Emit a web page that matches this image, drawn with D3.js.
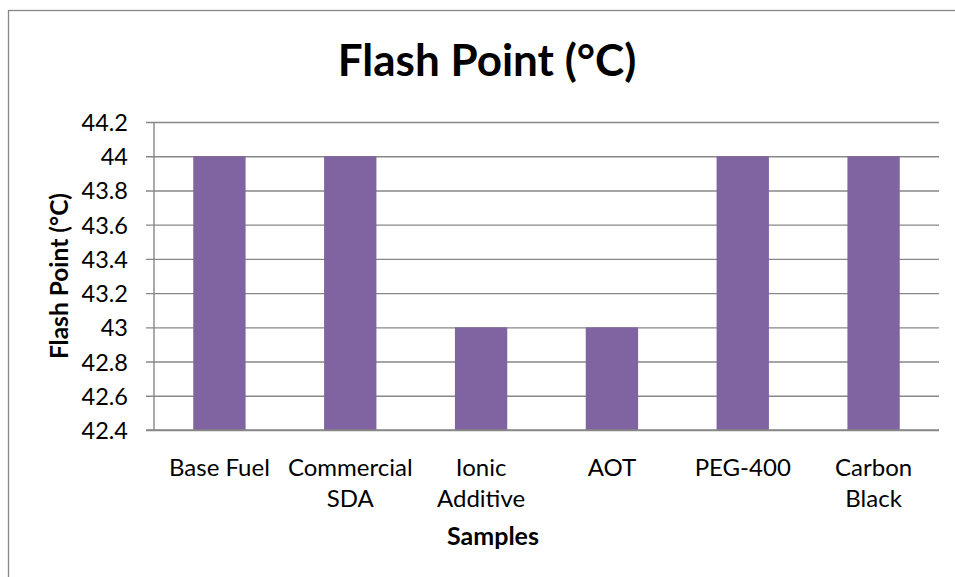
<!DOCTYPE html>
<html>
<head>
<meta charset="utf-8">
<script src="https://cdn.jsdelivr.net/npm/d3@7"></script>
<style>
  html, body { margin: 0; padding: 0; background: #fff; }
  svg { display: block; }
  text { font-family: Lato, sans-serif; fill: #000; }
</style>
</head>
<body>
<svg id="chart" width="955" height="577"></svg>
<script>
const categories = [["Base Fuel"], ["Commercial", "SDA"], ["Ionic", "Additive"], ["AOT"], ["PEG-400"], ["Carbon", "Black"]];
const values = [44, 44, 43, 43, 44, 44];
const yTicks = [42.4, 42.6, 42.8, 43, 43.2, 43.4, 43.6, 43.8, 44, 44.2];
const yTickLabels = ["42.4", "42.6", "42.8", "43", "43.2", "43.4", "43.6", "43.8", "44", "44.2"];
const chartTitle = "Flash Point (°C)";
const yTitle = "Flash Point (°C)";
const xTitle = "Samples";

const svg = d3.select("#chart");
const plot = { left: 154, right: 939, top: 122, bottom: 430 };
const gridColor = "#878787";
const barColor = "#8064A2";

// chart border
svg.append("rect")
  .attr("x", 8.5).attr("y", 10.5)
  .attr("width", 1000).attr("height", 1000)
  .attr("fill", "none").attr("stroke", gridColor).attr("stroke-width", 1.3);

const x = d3.scaleBand()
  .domain(d3.range(categories.length))
  .range([plot.left, plot.right])
  .paddingInner(0.6).paddingOuter(0.3);

const y = d3.scaleLinear()
  .domain([42.4, 44.2])
  .range([plot.bottom, plot.top]);

// gridlines + y axis
const yAxis = d3.axisLeft(y)
  .tickValues(yTicks)
  .tickFormat((d, i) => yTickLabels[i])
  .tickSize(-(plot.right - plot.left))
  .tickPadding(0);

const gy = svg.append("g")
  .attr("transform", `translate(${plot.left},0)`)
  .call(yAxis);
gy.select(".domain").remove();
gy.selectAll(".tick line")
  .attr("x1", -8)
  .attr("stroke", gridColor).attr("stroke-width", 1.4);
gy.selectAll(".tick text")
  .attr("x", -26)
  .attr("dy", "0.36em")
  .style("font-size", "23.5px")
  .style("font-family", "Lato, sans-serif")
  .attr("fill", "#000");

// bars
svg.append("g").selectAll("rect")
  .data(values)
  .join("rect")
  .attr("x", (d, i) => x(i))
  .attr("width", x.bandwidth())
  .attr("y", d => y(d))
  .attr("height", d => y(42.4) - y(d))
  .attr("fill", barColor);

// y axis line
svg.append("line")
  .attr("x1", plot.left).attr("x2", plot.left)
  .attr("y1", plot.top).attr("y2", plot.bottom)
  .attr("stroke", gridColor).attr("stroke-width", 1.4);
// x axis line
svg.append("line")
  .attr("x1", plot.left - 8).attr("x2", plot.right)
  .attr("y1", plot.bottom).attr("y2", plot.bottom)
  .attr("stroke", gridColor).attr("stroke-width", 1.4);

// category labels
const cat = svg.append("g").selectAll("text")
  .data(categories)
  .join("text")
  .attr("text-anchor", "middle")
  .style("font-size", "24px")
  .style("font-family", "Lato, sans-serif")
  .attr("x", (d, i) => x(i) + x.bandwidth() / 2)
  .attr("y", 476);
cat.selectAll("tspan")
  .data(d => d)
  .join("tspan")
  .attr("x", function () { return d3.select(this.parentNode).attr("x"); })
  .attr("dy", (d, i) => i === 0 ? 0 : 31)
  .text(d => d);

// title
svg.append("text")
  .attr("x", 487).attr("y", 76)
  .attr("text-anchor", "middle")
  .style("font-size", "44px")
  .style("font-weight", "bold")
  .style("font-family", "Lato, sans-serif")
  .text(chartTitle);

// x axis title
svg.append("text")
  .attr("x", 493).attr("y", 545)
  .attr("text-anchor", "middle")
  .style("font-size", "25px")
  .style("font-weight", "bold")
  .style("font-family", "Lato, sans-serif")
  .text(xTitle);

// y axis title
svg.append("text")
  .attr("transform", `translate(68,${(plot.top + plot.bottom) / 2}) rotate(-90)`)
  .attr("text-anchor", "middle")
  .style("font-size", "24.5px")
  .style("font-weight", "bold")
  .style("font-family", "Lato, sans-serif")
  .text(yTitle);
</script>
</body>
</html>
